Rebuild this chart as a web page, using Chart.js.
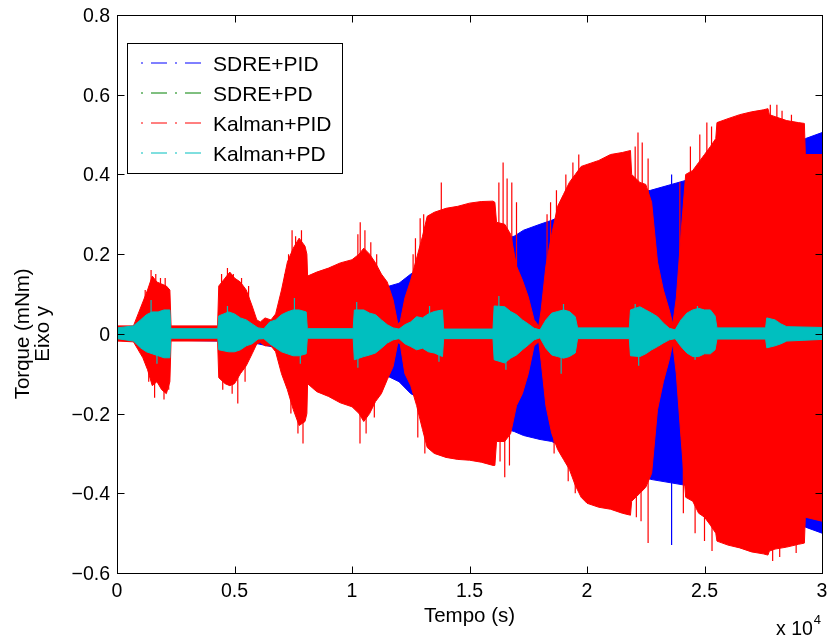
<!DOCTYPE html>
<html>
<head>
<meta charset="utf-8">
<title>Torque (mNm) - Eixo y</title>
<script src="https://cdn.jsdelivr.net/npm/chart.js@4/dist/chart.umd.min.js"></script>
<style>
  html, body { margin: 0; padding: 0; background: #ffffff; }
  canvas { display: block; }
</style>
</head>
<body>
<canvas id="torque" width="830" height="642"></canvas>
<script>
// ---- series names, colours and axis ticks ----
const seriesNames = ['SDRE+PID', 'SDRE+PD', 'Kalman+PID', 'Kalman+PD'];
const seriesColors = ['#0000ff', '#008000', '#ff0000', '#00bfbf'];

const xTickValues = [0, 5000, 10000, 15000, 20000, 25000, 30000];
const xTickLabels = ['0', '0.5', '1', '1.5', '2', '2.5', '3'];
const yTickValues = [-0.6, -0.4, -0.2, 0, 0.2, 0.4, 0.6, 0.8];
const yTickLabels = ['\u22120.6', '\u22120.4', '\u22120.2', '0', '0.2', '0.4', '0.6', '0.8'];

// ---- SDRE+PID: oscillation envelope (time s, upper, lower) ----
const sdrePidT  = [0, 2300, 4300, 6000, 8000, 10000, 11300, 12000, 12500, 13500,
                   15000, 16000, 16900, 17300, 18000, 18500, 19500, 21000, 22700, 24200,
                   26000, 28000, 29300, 30000];
const sdrePidHi = [0.015, 0.016, 0.018, 0.025, 0.05, 0.09, 0.115, 0.127, 0.15, 0.18,
                   0.21, 0.23, 0.245, 0.26, 0.275, 0.285, 0.31, 0.34, 0.36, 0.385,
                   0.42, 0.46, 0.49, 0.505];
const sdrePidLo = [-0.015, -0.016, -0.018, -0.025, -0.05, -0.085, -0.1, -0.12, -0.15, -0.18,
                   -0.21, -0.23, -0.245, -0.255, -0.265, -0.27, -0.3, -0.33, -0.365, -0.38,
                   -0.42, -0.46, -0.485, -0.5];
// isolated peaks of SDRE+PID
const sdrePidPeakT = [23600, 23600];
const sdrePidPeakV = [0.40, -0.53];

// ---- SDRE+PD: oscillation envelope ----
const sdrePdT  = [0, 2250, 2300, 4300, 6000, 8000, 10000, 13900, 16000, 19600, 21800, 25500, 27600, 30000];
const sdrePdHi = [0.01, 0.016, 0.008, 0.014, 0.01, 0.016, 0.01, 0.016, 0.012, 0.016, 0.012, 0.016, 0.012, 0.01];
const sdrePdLo = [-0.01, -0.016, -0.008, -0.014, -0.01, -0.016, -0.01, -0.016, -0.012, -0.016, -0.012, -0.016, -0.012, -0.01];

// ---- Kalman+PID: oscillation envelope ----
const kalmanPidT = [
  0, 700, 900, 1100, 1300, 1500, 1700, 1900, 2100, 2250,
  2300, 4280, 4330, 4600, 4800, 5000, 5250, 5500, 5750, 5950,
  6100, 6300, 6550, 6750, 7000, 7250, 7500, 7750, 8000, 8080,
  8110, 8500, 9000, 9500, 10000, 10300, 10500, 10750, 11000, 11250,
  11500, 11750, 11950, 12050, 12250, 12500, 12750, 13000, 13200, 13500,
  14000, 14500, 15000, 15500, 16000, 16080, 16150, 16500, 16750, 17000,
  17250, 17500, 17750, 17950, 18050, 18250, 18500, 18750, 19000, 19250,
  19500, 19750, 20000, 20500, 21000, 21500, 21850, 21900, 22250, 22500,
  22750, 23000, 23250, 23500, 23650, 23800, 24000, 24200, 24500, 24750,
  25000, 25250, 25480, 25530, 26000, 26500, 27000, 27500, 27700, 27760,
  28000, 28500, 29000, 29250, 29290, 30000];
const kalmanPidHi = [
  0.02, 0.02, 0.05, 0.08, 0.11, 0.145, 0.13, 0.125, 0.12, 0.11,
  0.02, 0.02, 0.12, 0.14, 0.155, 0.14, 0.13, 0.11, 0.07, 0.035,
  0.03, 0.04, 0.035, 0.05, 0.11, 0.18, 0.215, 0.24, 0.22, 0.2,
  0.145, 0.155, 0.165, 0.178, 0.186, 0.2, 0.215, 0.2, 0.178, 0.15,
  0.13, 0.085, 0.025, 0.03, 0.09, 0.135, 0.19, 0.245, 0.295, 0.305,
  0.315, 0.32, 0.328, 0.332, 0.333, 0.33, 0.28, 0.275, 0.25, 0.17,
  0.135, 0.093, 0.035, 0.02, 0.06, 0.17, 0.25, 0.32, 0.35, 0.38,
  0.40, 0.42, 0.425, 0.435, 0.45, 0.455, 0.46, 0.40, 0.38, 0.375,
  0.33, 0.18, 0.11, 0.06, 0.025, 0.09, 0.25, 0.40, 0.41, 0.43,
  0.45, 0.47, 0.49, 0.53, 0.54, 0.55, 0.557, 0.562, 0.565, 0.55,
  0.545, 0.535, 0.53, 0.528, 0.45, 0.45];
const kalmanPidLo = [
  -0.018, -0.02, -0.04, -0.06, -0.09, -0.13, -0.12, -0.14, -0.15, -0.12,
  -0.018, -0.018, -0.11, -0.125, -0.13, -0.125, -0.1, -0.08, -0.05, -0.025,
  -0.022, -0.03, -0.03, -0.045, -0.1, -0.14, -0.19, -0.23, -0.22, -0.2,
  -0.125, -0.145, -0.157, -0.173, -0.183, -0.2, -0.22, -0.2, -0.17, -0.15,
  -0.115, -0.082, -0.022, -0.025, -0.1, -0.13, -0.18, -0.24, -0.285, -0.3,
  -0.31, -0.315, -0.317, -0.322, -0.33, -0.33, -0.27, -0.27, -0.25, -0.18,
  -0.15, -0.1, -0.03, -0.02, -0.07, -0.18, -0.25, -0.29, -0.315, -0.34,
  -0.38, -0.41, -0.425, -0.435, -0.44, -0.45, -0.455, -0.42, -0.40, -0.385,
  -0.35, -0.19, -0.12, -0.065, -0.025, -0.1, -0.26, -0.41, -0.42, -0.45,
  -0.46, -0.48, -0.5, -0.52, -0.53, -0.537, -0.547, -0.552, -0.555, -0.545,
  -0.54, -0.535, -0.528, -0.525, -0.46, -0.47];
// isolated peaks of Kalman+PID that stand out of the envelope (time s, peak)
const kalmanPidPeakT = [1200, 1450, 1650, 1850, 2050, 4450, 4700, 4950, 5300, 5600,
                        7150, 7300, 7450, 7600, 7850, 10250, 10350, 10550, 10800, 11050,
                        12600, 12700, 12900, 13050, 13800, 16250, 16430, 16600, 16800, 17000,
                        18300, 18450, 18700, 19100, 19400, 19650, 22050, 22170, 22350, 22600,
                        23950, 24400, 24800, 25100, 25300, 27800, 28080, 28300, 28700,
                        1350, 1600, 2000, 2200, 4500, 4900, 5140, 5450, 7400, 7700,
                        7915, 10340, 10600, 10950, 12800, 13100, 16300, 16500, 16700, 18600,
                        19200, 19500, 22100, 22300, 22600, 24100, 24600, 25000, 25320, 27900,
                        28200, 28900];
const kalmanPidPeakV = [0.11, 0.16, 0.15, 0.14, 0.14, 0.15, 0.165, 0.15, 0.14, 0.12,
                        0.15, 0.2, 0.26, 0.245, 0.26, 0.25, 0.28, 0.26, 0.23, 0.2,
                        0.2, 0.24, 0.29, 0.3, 0.38, 0.38, 0.43, 0.39, 0.38, 0.33,
                        0.3, 0.33, 0.36, 0.4, 0.43, 0.45, 0.47, 0.505, 0.48, 0.44,
                        0.38, 0.47, 0.5, 0.53, 0.52, 0.575, 0.575, 0.56, 0.55,
                        -0.12, -0.16, -0.165, -0.14, -0.14, -0.15, -0.175, -0.12, -0.2, -0.25,
                        -0.275, -0.275, -0.25, -0.21, -0.26, -0.3, -0.32, -0.36, -0.33, -0.3,
                        -0.37, -0.4, -0.46, -0.47, -0.525, -0.45, -0.5, -0.52, -0.545, -0.57,
                        -0.56, -0.55];

// ---- Kalman+PD: oscillation envelope ----
const kalmanPdT = [
  0, 700, 1000, 1250, 1500, 1750, 2000, 2250, 2290, 4290,
  4330, 4750, 5000, 5250, 5500, 5750, 6000, 6250, 6500, 6750,
  7000, 7250, 7500, 7750, 8050, 8100, 10050, 10100, 10500, 10750,
  11000, 11250, 11500, 11750, 12000, 12250, 12500, 12750, 13000, 13250,
  13500, 13850, 13900, 16000, 16050, 16500, 16750, 17000, 17250, 17500,
  17750, 18000, 18250, 18500, 18750, 19000, 19250, 19500, 19600, 21800,
  21850, 22250, 22500, 22750, 23000, 23250, 23500, 23750, 24000, 24250,
  24500, 24750, 25000, 25250, 25450, 25530, 27600, 27650, 28000, 28250,
  28500, 30000];
const kalmanPdHi = [
  0.015, 0.02, 0.035, 0.048, 0.055, 0.055, 0.06, 0.06, 0.013, 0.013,
  0.045, 0.055, 0.05, 0.04, 0.035, 0.025, 0.015, 0.013, 0.03, 0.035,
  0.048, 0.055, 0.06, 0.06, 0.055, 0.013, 0.013, 0.06, 0.06, 0.052,
  0.048, 0.035, 0.023, 0.015, 0.012, 0.023, 0.03, 0.043, 0.04, 0.05,
  0.056, 0.06, 0.012, 0.012, 0.07, 0.068, 0.056, 0.048, 0.035, 0.025,
  0.014, 0.01, 0.035, 0.052, 0.056, 0.06, 0.056, 0.043, 0.015, 0.015,
  0.06, 0.068, 0.06, 0.052, 0.043, 0.027, 0.014, 0.01, 0.035, 0.052,
  0.06, 0.064, 0.06, 0.06, 0.045, 0.015, 0.015, 0.04, 0.035, 0.025,
  0.018, 0.016];
const kalmanPdLo = [
  -0.012, -0.018, -0.035, -0.045, -0.05, -0.055, -0.06, -0.06, -0.011, -0.011,
  -0.04, -0.045, -0.045, -0.04, -0.03, -0.025, -0.013, -0.012, -0.025, -0.035,
  -0.045, -0.05, -0.055, -0.055, -0.05, -0.011, -0.011, -0.065, -0.057, -0.053,
  -0.048, -0.036, -0.023, -0.015, -0.012, -0.025, -0.032, -0.04, -0.036, -0.045,
  -0.048, -0.057, -0.012, -0.012, -0.065, -0.073, -0.061, -0.053, -0.04, -0.028,
  -0.015, -0.01, -0.036, -0.053, -0.057, -0.061, -0.057, -0.048, -0.012, -0.012,
  -0.055, -0.057, -0.05, -0.04, -0.032, -0.023, -0.015, -0.012, -0.032, -0.048,
  -0.057, -0.057, -0.05, -0.05, -0.04, -0.013, -0.013, -0.035, -0.03, -0.025,
  -0.018, -0.014];
// start-up transient and isolated peaks of Kalman+PD
const kalmanPdPeakT = [0, 0, 1450, 1700, 4700, 7550, 7800, 10200, 10250, 13300,
                       13700, 16250, 16550, 18900, 19000, 22050, 22200, 24700, 24600];
const kalmanPdPeakV = [0.6, -0.39, 0.085, -0.075, 0.07, 0.09, -0.075, 0.08, -0.085, 0.07,
                       -0.07, 0.095, -0.09, -0.1, 0.075, 0.075, -0.08, 0.07, -0.065];

// ---- dataset builders ----
function pts(t, v) { return t.map((x, i) => ({ x: x, y: v[i] })); }

function band(name, color, t, hi, lo, order) {
  return [
    { label: name + ' max', data: pts(t, hi), borderColor: color, borderWidth: 1,
      pointRadius: 0, fill: false, tension: 0, order: order },
    { label: name, data: pts(t, lo), borderColor: color, backgroundColor: color, borderWidth: 1,
      pointRadius: 0, fill: '-1', tension: 0, order: order }
  ];
}

function peaks(name, color, t, v, order) {
  const data = [];
  t.forEach((x, i) => {
    data.push({ x: x, y: 0 }, { x: x, y: v[i] }, { x: x, y: null });
  });
  return { label: name + ' peaks', data: data, borderColor: color, borderWidth: 1.2,
           pointRadius: 0, fill: false, spanGaps: false, tension: 0, order: order };
}

const datasets = [].concat(
  band(seriesNames[3], seriesColors[3], kalmanPdT, kalmanPdHi, kalmanPdLo, 0),
  [peaks(seriesNames[3], seriesColors[3], kalmanPdPeakT, kalmanPdPeakV, 0)],
  band(seriesNames[2], seriesColors[2], kalmanPidT, kalmanPidHi, kalmanPidLo, 1),
  [peaks(seriesNames[2], seriesColors[2], kalmanPidPeakT, kalmanPidPeakV, 1)],
  band(seriesNames[1], seriesColors[1], sdrePdT, sdrePdHi, sdrePdLo, 2),
  band(seriesNames[0], seriesColors[0], sdrePidT, sdrePidHi, sdrePidLo, 3),
  [peaks(seriesNames[0], seriesColors[0], sdrePidPeakT, sdrePidPeakV, 3)]
);

const FONT = '"Liberation Sans", Arial, Helvetica, sans-serif';

// box, inward ticks, tick labels, axis titles and legend
const axesFrame = {
  id: 'axesFrame',
  afterDraw(chart) {
    const { ctx, chartArea: a, scales: { x, y } } = chart;
    const L = Math.round(a.left) + 0.5, R = Math.round(a.right) + 0.5;
    const T = Math.round(a.top) + 0.5, B = Math.round(a.bottom) + 0.5;
    const tick = 7;
    ctx.save();
    ctx.strokeStyle = '#000000';
    ctx.lineWidth = 1;
    ctx.beginPath();
    xTickValues.forEach(v => {
      const px = Math.round(x.getPixelForValue(v)) + 0.5;
      ctx.moveTo(px, B); ctx.lineTo(px, B - tick);
      ctx.moveTo(px, T); ctx.lineTo(px, T + tick);
    });
    yTickValues.forEach(v => {
      const py = Math.round(y.getPixelForValue(v)) + 0.5;
      ctx.moveTo(L, py); ctx.lineTo(L + tick, py);
      ctx.moveTo(R, py); ctx.lineTo(R - tick, py);
    });
    ctx.stroke();
    ctx.strokeRect(L, T, R - L, B - T);

    ctx.fillStyle = '#000000';
    ctx.font = '19.5px ' + FONT;
    ctx.textBaseline = 'alphabetic';
    ctx.textAlign = 'center';
    xTickValues.forEach((v, i) => {
      ctx.fillText(xTickLabels[i], x.getPixelForValue(v), a.bottom + 24);
    });
    ctx.textAlign = 'right';
    yTickValues.forEach((v, i) => {
      ctx.fillText(yTickLabels[i], a.left - 7, y.getPixelForValue(v) + 7);
    });

    // x axis title and exponent
    ctx.font = '20.5px ' + FONT;
    ctx.textAlign = 'center';
    ctx.fillText('Tempo (s)', (a.left + a.right) / 2, a.bottom + 49);
    ctx.textAlign = 'left';
    ctx.font = '19.5px ' + FONT;
    ctx.fillText('x 10', 776, 635);
    const w = ctx.measureText('x 10').width;
    ctx.font = '13px ' + FONT;
    ctx.fillText('4', 776 + w + 1, 624);

    // y axis title (two lines)
    ctx.font = '20.5px ' + FONT;
    ctx.textAlign = 'center';
    const cy = y.getPixelForValue(0);
    [['Torque (mNm)', 29], ['Eixo y', 49]].forEach(([txt, bx]) => {
      ctx.save();
      ctx.translate(bx, cy);
      ctx.rotate(-Math.PI / 2);
      ctx.fillText(txt, 0, 0);
      ctx.restore();
    });

    // legend
    const lx = 127.5, ly = 43.5, lw = 215, lh = 130;
    ctx.fillStyle = '#ffffff';
    ctx.fillRect(lx, ly, lw, lh);
    ctx.strokeStyle = '#000000';
    ctx.strokeRect(lx, ly, lw, lh);
    ctx.font = '21px ' + FONT;
    ctx.textAlign = 'left';
    seriesNames.forEach((name, i) => {
      const rowY = 63 + i * 30;
      ctx.strokeStyle = seriesColors[i];
      ctx.lineWidth = 1;
      ctx.setLineDash([2, 8, 16, 8]);
      ctx.beginPath();
      ctx.moveTo(141, rowY);
      ctx.lineTo(204, rowY);
      ctx.stroke();
      ctx.setLineDash([]);
      ctx.fillStyle = '#000000';
      ctx.fillText(name, 213, rowY + 8);
    });
    ctx.restore();
  }
};

new Chart(document.getElementById('torque'), {
  type: 'line',
  data: { datasets: datasets },
  options: {
    responsive: false,
    animation: false,
    devicePixelRatio: 1,
    layout: { padding: { left: 117, top: 15, right: 8, bottom: 69 } },
    plugins: { legend: { display: false }, tooltip: { enabled: false } },
    elements: { line: { borderCapStyle: 'butt' } },
    scales: {
      x: { type: 'linear', min: 0, max: 30000, display: false },
      y: { type: 'linear', min: -0.6, max: 0.8, display: false }
    }
  },
  plugins: [axesFrame]
});
</script>
</body>
</html>
